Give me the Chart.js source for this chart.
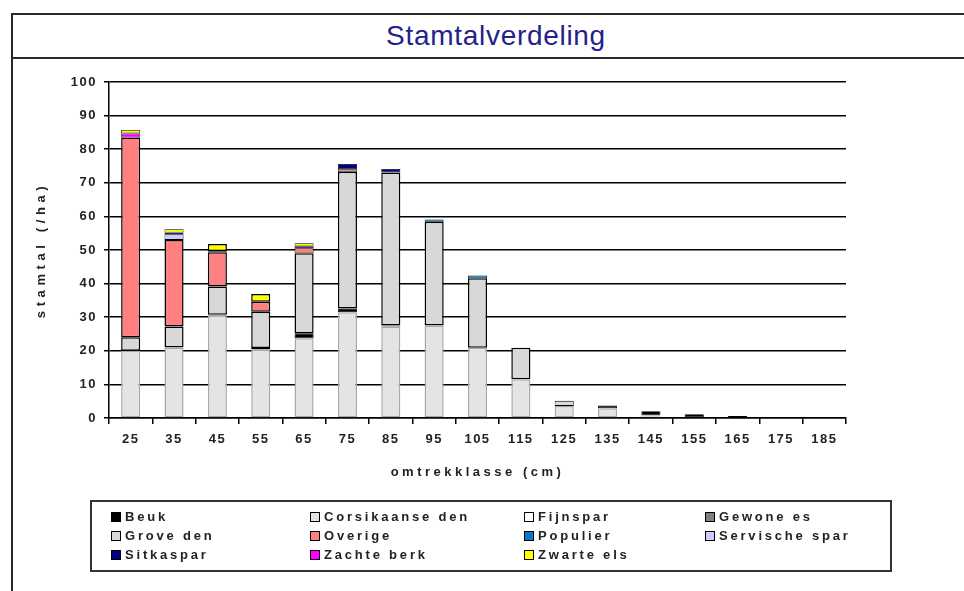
<!DOCTYPE html>
<html>
<head>
<meta charset="utf-8">
<script src="https://cdn.jsdelivr.net/npm/chart.js@4"></script>
<style>
    body { margin: 0; background: #fff; }
    #wrap { position: relative; width: 964px; height: 591px; overflow: hidden; font-family: "Liberation Sans", Arial, sans-serif; }
    #chart { position: absolute; left: 0; top: 0; }
    .frame { position: absolute; background: #2a2a2a; }
    #title { position: absolute; left: 28px; right: 0; top: 16px; height: 40px; line-height: 40px; text-align: center; color: #22228a; font-size: 28px; letter-spacing: 0.7px; }
    #legend { position: absolute; left: 90px; top: 500px; width: 798px; height: 68px; border: 2px solid #333; }
    .item { position: absolute; font-size: 13px; font-weight: bold; color: #222; letter-spacing: 2.8px; white-space: nowrap; }
    .item span { position: absolute; left: 0; top: 2px; width: 8px; height: 8px; border: 1px solid #000; }
    .item b { position: absolute; left: 14px; top: 0; font-weight: bold; line-height: 14px; }
</style>
</head>
<body>
<div id="wrap">
    <div class="frame" style="left:12px; right:0; top:13px; height:2px;"></div>
    <div class="frame" style="left:12px; right:0; top:57px; height:2px;"></div>
    <div class="frame" style="left:11px; top:13px; width:2px; bottom:0;"></div>
    <div id="title">Stamtalverdeling</div>
    <canvas id="chart" width="964" height="591"></canvas>
    <div id="legend"></div>
</div>
<script>
// omtrekklassen (cm)
const categories = ['25', '35', '45', '55', '65', '75', '85', '95', '105', '115', '125', '135', '145', '155', '165', '175', '185'];

// stamtal per soort (/ha)
const corsikaanseDen = [20, 21, 30.7, 20.4, 23.7, 31.5, 27.2, 27.5, 20.9, 11.5, 3.6, 2.9, 0.8, 0.2, 0, 0, 0];
const beuk           = [0, 0, 0, 0.4, 1.5, 1.1, 0.3, 0, 0, 0, 0, 0.8, 1.2, 0.9, 0, 0, 0];
const groveDen       = [4, 6.2, 8.4, 10.8, 23.8, 40.7, 45.6, 30.9, 20.7, 9.4, 1.5, 0, 0, 0, 0, 0, 0];
const fijnspar       = [0, 0, 0, 0, 0, 0, 0, 0, 0, 0, 0, 0, 0, 0, 0, 0, 0];
const gewoneEs       = [0, 0, 0, 0, 0, 0, 0, 0, 0, 0, 0, 0, 0, 0, 0, 0, 0];
const overige        = [59.5, 25.8, 10.2, 3, 1.5, 0.7, 0, 0, 0, 0, 0, 0, 0, 0, 0.6, 0, 0];
const populier       = [0, 0, 0, 0, 0, 0, 0, 0.7, 0.8, 0, 0, 0, 0, 0, 0, 0, 0];
const servischeSpar  = [0, 1.7, 0, 0, 0, 0, 0, 0, 0, 0, 0, 0, 0, 0, 0, 0, 0];
const sitkaspar      = [0, 0.5, 0, 0, 0.6, 1.6, 1, 0, 0, 0, 0, 0, 0, 0, 0, 0, 0];
const zachteBerk     = [1.2, 0, 0.3, 0, 0, 0, 0, 0, 0, 0, 0, 0, 0, 0, 0, 0, 0];
const zwarteEls      = [1, 1, 2.2, 2.3, 0.9, 0, 0, 0, 0, 0, 0, 0, 0, 0, 0, 0, 0];

const yMin = 0, yMax = 100, yStep = 10;

// legend order as in the original
const legendItems = [
    ['Beuk', '#000000'], ['Corsikaanse den', '#e4e4e4'], ['Fijnspar', '#ffffff'], ['Gewone es', '#808080'],
    ['Grove den', '#d8d8d8'], ['Overige', '#ff8080'], ['Populier', '#0a78c0'], ['Servische spar', '#ccccff'],
    ['Sitkaspar', '#000080'], ['Zachte berk', '#ff00ff'], ['Zwarte els', '#ffff00']
];
const colourOf = {};
legendItems.forEach(([name, col]) => colourOf[name] = col);

// stacking order, bottom to top
const stack = [
    ['Corsikaanse den', corsikaanseDen],
    ['Beuk', beuk],
    ['Grove den', groveDen],
    ['Fijnspar', fijnspar],
    ['Gewone es', gewoneEs],
    ['Overige', overige],
    ['Populier', populier],
    ['Servische spar', servischeSpar],
    ['Sitkaspar', sitkaspar],
    ['Zachte berk', zachteBerk],
    ['Zwarte els', zwarteEls]
];

const datasets = stack.map(([name, values]) => ({
    label: name,
    data: values,
    backgroundColor: colourOf[name],
    borderColor: name === 'Corsikaanse den' ? '#a8a8a8' : '#000000',
    // no outline for empty segments, thin outline for thin ones
    borderWidth: ctx => !ctx.raw ? 0 : (ctx.raw < 2 ? 0.8 : 1.5),
    borderSkipped: false
}));

// wide text like the original: labels a bit, axis titles a lot
const spacing = {
    id: 'spacing',
    beforeUpdate(chart) { chart.ctx.letterSpacing = '1.5px'; },
    afterLayout(chart) {
        Object.values(chart.scales).forEach(scale => {
            if (scale._spaced) return;
            const drawTitle = scale.drawTitle.bind(scale);
            const gap = scale.axis === 'y' ? '4.6px' : '3.5px';
            scale.drawTitle = function() {
                const c = this.ctx;
                c.save();
                c.letterSpacing = gap;
                drawTitle();
                c.restore();
            };
            scale._spaced = true;
        });
    },
    beforeDraw(chart) { chart.ctx.letterSpacing = '1.5px'; }
};

const tickFont = { family: '"Liberation Sans", Arial, sans-serif', size: 13, weight: 'bold' };

new Chart(document.getElementById('chart').getContext('2d'), {
    type: 'bar',
    data: { labels: categories, datasets: datasets },
    options: {
        responsive: false,
        animation: false,
        barPercentage: 0.44,
        categoryPercentage: 1.0,
        layout: { padding: { left: 30, top: 82, right: 118, bottom: 107 } },
        plugins: {
            legend: { display: false },
            tooltip: { enabled: false }
        },
        scales: {
            x: {
                stacked: true,
                afterFit: function(scale) { scale.height = 66; },
                grid: { display: true, drawOnChartArea: false, offset: true, color: '#000', lineWidth: 1.5, tickLength: 6 },
                border: { color: '#000', width: 1.5 },
                ticks: { color: '#222', font: tickFont, padding: 8, maxRotation: 0, autoSkip: false },
                title: { display: true, text: 'omtrekklasse (cm)', color: '#222', font: tickFont }
            },
            y: {
                stacked: true,
                min: yMin,
                max: yMax,
                afterFit: function(scale) { scale.width = 79; },
                grid: { color: '#000', lineWidth: 1.5, tickLength: 5 },
                border: { color: '#000', width: 1.5 },
                ticks: { stepSize: yStep, color: '#222', font: tickFont, padding: 7 },
                title: { display: true, text: 'stamtal (/ha)', color: '#222', font: tickFont }
            }
        }
    },
    plugins: [spacing]
});

// legend box, 4 columns x 3 rows
const legend = document.getElementById('legend');
const colX = [19, 218, 432, 613];
const rowY = [8, 27, 46];
legendItems.forEach(([name, col], i) => {
    const item = document.createElement('div');
    item.className = 'item';
    item.style.left = colX[i % 4] + 'px';
    item.style.top = rowY[Math.floor(i / 4)] + 'px';
    item.innerHTML = '<span style="background:' + col + '"></span><b>' + name + '</b>';
    legend.appendChild(item);
});
</script>
</body>
</html>
